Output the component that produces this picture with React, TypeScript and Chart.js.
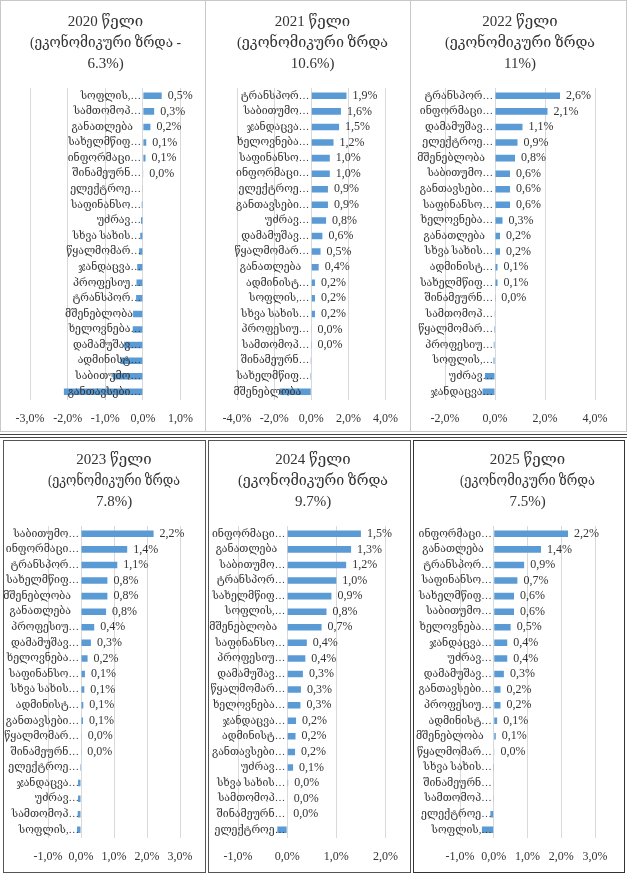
import React, { useEffect, useRef } from "react";
import { Chart, registerables } from "chart.js";

Chart.register(...registerables);

const FONT = "'Liberation Serif', 'DejaVu Serif', serif";
const TEXT = "#333333";

// categories and values per year, top to bottom (sorted as in the picture)
const labels2020 = ["სოფლის,…", "სამთომოპ…", "განათლება", "სახელმწიფ…", "ინფორმაცი…", "შინამეურნ…", "ელექტროე…", "საფინანსო…", "უძრავ…", "სხვა სახის…", "წყალმომარ…", "ჯანდაცვა…", "პროფესიუ…", "ტრანსპორ…", "მშენებლობა", "ხელოვნება…", "დამამუშავ…", "ადმინისტ…", "საბითუმო…", "განთავსები…"];
const values2020 = [0.5, 0.3, 0.2, 0.09, 0.07, 0.01, -0.01, -0.03, -0.05, -0.07, -0.1, -0.15, -0.17, -0.18, -0.26, -0.27, -0.5, -0.6, -0.8, -2.1];

const labels2021 = ["ტრანსპორ…", "საბითუმო…", "ჯანდაცვა…", "ხელოვნება…", "საფინანსო…", "ინფორმაცი…", "ელექტროე…", "განთავსები…", "უძრავ…", "დამამუშავ…", "წყალმომარ…", "განათლება", "ადმინისტ…", "სოფლის,…", "სხვა სახის…", "პროფესიუ…", "სამთომოპ…", "შინამეურნ…", "სახელმწიფ…", "მშენებლობა"];
const values2021 = [1.9, 1.6, 1.5, 1.2, 1.0, 1.0, 0.9, 0.9, 0.8, 0.6, 0.5, 0.4, 0.2, 0.2, 0.2, 0.02, 0.01, -0.01, -0.05, -1.7];

const labels2022 = ["ტრანსპორ…", "ინფორმაცი…", "დამამუშავ…", "ელექტროე…", "მშენებლობა", "საბითუმო…", "განთავსები…", "საფინანსო…", "ხელოვნება…", "განათლება", "სხვა სახის…", "ადმინისტ…", "სახელმწიფ…", "შინამეურნ…", "სამთომოპ…", "წყალმომარ…", "პროფესიუ…", "სოფლის,…", "უძრავ…", "ჯანდაცვა…"];
const values2022 = [2.6, 2.1, 1.1, 0.9, 0.8, 0.6, 0.6, 0.6, 0.3, 0.2, 0.2, 0.1, 0.1, 0.01, -0.01, -0.04, -0.05, -0.06, -0.4, -0.5];

const labels2023 = ["საბითუმო…", "ინფორმაცი…", "ტრანსპორ…", "სახელმწიფ…", "მშენებლობა", "განათლება", "პროფესიუ…", "დამამუშავ…", "ხელოვნება…", "საფინანსო…", "სხვა სახის…", "ადმინისტ…", "განთავსები…", "წყალმომარ…", "შინამეურნ…", "ელექტროე…", "ჯანდაცვა…", "უძრავ…", "სამთომოპ…", "სოფლის,…"];
const values2023 = [2.2, 1.4, 1.1, 0.8, 0.8, 0.76, 0.4, 0.3, 0.2, 0.12, 0.1, 0.07, 0.06, 0.02, 0.01, -0.03, -0.09, -0.09, -0.1, -0.12];

const labels2024 = ["ინფორმაცი…", "განათლება", "საბითუმო…", "ტრანსპორ…", "სახელმწიფ…", "სოფლის,…", "მშენებლობა", "საფინანსო…", "პროფესიუ…", "დამამუშავ…", "წყალმომარ…", "ხელოვნება…", "ჯანდაცვა…", "ადმინისტ…", "განთავსები…", "უძრავ…", "სხვა სახის…", "სამთომოპ…", "შინამეურნ…", "ელექტროე…"];
const values2024 = [1.5, 1.3, 1.2, 1.0, 0.9, 0.8, 0.7, 0.4, 0.37, 0.32, 0.28, 0.27, 0.18, 0.17, 0.16, 0.12, 0.02, 0.01, 0.0, -0.2];

const labels2025 = ["ინფორმაცი…", "განათლება", "ტრანსპორ…", "საფინანსო…", "სახელმწიფ…", "საბითუმო…", "ხელოვნება…", "ჯანდაცვა…", "უძრავ…", "დამამუშავ…", "განთავსები…", "პროფესიუ…", "ადმინისტ…", "მშენებლობა", "წყალმომარ…", "სხვა სახის…", "შინამეურნ…", "სამთომოპ…", "ელექტროე…", "სოფლის,…"];
const values2025 = [2.2, 1.4, 0.9, 0.7, 0.6, 0.6, 0.5, 0.4, 0.4, 0.3, 0.2, 0.2, 0.1, 0.06, 0.02, -0.005, -0.01, -0.02, -0.1, -0.35];

const fmt = (v: number) => v.toFixed(1).replace(".", ",") + "%";

// category names sit at the zero line, values at the bar ends (Excel style)
const barLabels = {
  id: "barLabels",
  afterDatasetsDraw(chart: any) {
    const { ctx, scales } = chart;
    const xs = scales.x;
    const ys = scales.y;
    const labels = chart.data.labels as string[];
    const values = chart.data.datasets[0].data as number[];
    const zero = xs.getPixelForValue(0);
    ctx.save();
    ctx.textBaseline = "middle";
    ctx.fillStyle = TEXT;
    labels.forEach((lab, i) => {
      const y = ys.getPixelForValue(i);
      // untruncated names keep the room the ellipsis would take
      const gap = lab.endsWith("…") ? 2 : 10;
      ctx.font = `10.5px ${FONT}`;
      ctx.textAlign = "right";
      ctx.fillText(lab, zero - gap, y);
      const v = values[i];
      if (v >= 0) {
        ctx.font = `12px ${FONT}`;
        ctx.textAlign = "left";
        ctx.fillText(fmt(v), xs.getPixelForValue(v) + 6, y);
      }
    });
    ctx.restore();
  },
};

interface PanelProps {
  title: string[];
  labels: string[];
  values: number[];
  min: number;
  max: number;
  step: number;
  left: number;
  top: number;
  width: number;
  height: number;
  plotLeft: number;
  plotRight: number;
}

const Panel: React.FC<PanelProps> = (p) => {
  const canvasRef = useRef<HTMLCanvasElement | null>(null);

  useEffect(() => {
    if (!canvasRef.current) return;
    const chart = new Chart(canvasRef.current, {
      type: "bar",
      data: {
        labels: p.labels,
        datasets: [
          {
            data: p.values,
            backgroundColor: "#5b9bd5",
            barPercentage: 0.42,
            categoryPercentage: 1,
          },
        ],
      },
      options: {
        indexAxis: "y",
        responsive: false,
        animation: false,
        layout: {
          padding: {
            left: p.plotLeft - p.left,
            right: p.left + p.width - p.plotRight,
            top: 0,
            bottom: 4,
          },
        },
        scales: {
          x: {
            min: p.min,
            max: p.max,
            grid: { color: "#d9d9d9", drawTicks: false },
            border: { display: false },
            ticks: {
              stepSize: p.step,
              padding: 12,
              maxRotation: 0,
              minRotation: 0,
              autoSkip: false,
              color: TEXT,
              font: { family: FONT, size: 12 },
              callback: (v: any) => fmt(Number(v)),
            },
          },
          y: { display: false },
        },
        plugins: {
          legend: { display: false },
          tooltip: { enabled: false },
          title: {
            display: true,
            text: p.title,
            color: TEXT,
            font: { family: FONT, size: 15, weight: "normal", lineHeight: 1.4 },
            padding: { top: 11, bottom: 13 },
          },
        },
      },
      plugins: [barLabels],
    });
    return () => {
      chart.destroy();
    };
  }, [p]);

  return (
    <canvas
      ref={canvasRef}
      width={p.width}
      height={p.height}
      style={{ position: "absolute", left: p.left, top: p.top, width: p.width, height: p.height }}
    />
  );
};

const panels: PanelProps[] = [
  { title: ["2020 წელი", "(ეკონომიკური ზრდა -", "6.3%)"], labels: labels2020, values: values2020, min: -3, max: 1, step: 1, left: 1, top: 1, width: 204, height: 441, plotLeft: 30, plotRight: 181 },
  { title: ["2021 წელი", "(ეკონომიკური ზრდა", "10.6%)"], labels: labels2021, values: values2021, min: -4, max: 4, step: 2, left: 206, top: 1, width: 204, height: 441, plotLeft: 237, plotRight: 388 },
  { title: ["2022 წელი", "(ეკონომიკური ზრდა", "11%)"], labels: labels2022, values: values2022, min: -2, max: 4, step: 2, left: 411, top: 1, width: 215, height: 441, plotLeft: 445, plotRight: 595 },
  { title: ["2023 წელი", "(ეკონომიკური ზრდა", "7.8%)"], labels: labels2023, values: values2023, min: -1, max: 3, step: 1, left: 4, top: 439, width: 201, height: 441, plotLeft: 48, plotRight: 180 },
  { title: ["2024 წელი", "(ეკონომიკური ზრდა", "9.7%)"], labels: labels2024, values: values2024, min: -1, max: 2, step: 1, left: 209, top: 439, width: 201, height: 441, plotLeft: 238, plotRight: 388 },
  { title: ["2025 წელი", "(ეკონომიკური ზრდა", "7.5%)"], labels: labels2025, values: values2025, min: -1, max: 3, step: 1, left: 414, top: 439, width: 209, height: 441, plotLeft: 460, plotRight: 595 },
];

const box = (left: number, top: number, width: number, height: number, color: string): React.CSSProperties => ({
  position: "absolute",
  left,
  top,
  width,
  height,
  border: `1px solid ${color}`,
  boxSizing: "border-box",
});

export default function App() {
  return (
    <div style={{ position: "absolute", left: 0, top: 0, width: 629, height: 878, background: "#fff" }}>
      <div style={box(0, 0, 206, 432, "#c8c8c8")} />
      <div style={box(205, 0, 206, 432, "#c8c8c8")} />
      <div style={box(410, 0, 217, 432, "#c8c8c8")} />
      <div style={{ position: "absolute", left: 0, top: 434, width: 627, height: 4, borderTop: "1px solid #444", borderBottom: "1px solid #444", boxSizing: "border-box" }} />
      <div style={box(3, 440, 203, 433, "#555")} />
      <div style={box(208, 440, 203, 433, "#555")} />
      <div style={box(413, 440, 212, 433, "#333")} />
      {panels.map((p) => (
        <Panel key={p.title[0]} {...p} />
      ))}
    </div>
  );
}
